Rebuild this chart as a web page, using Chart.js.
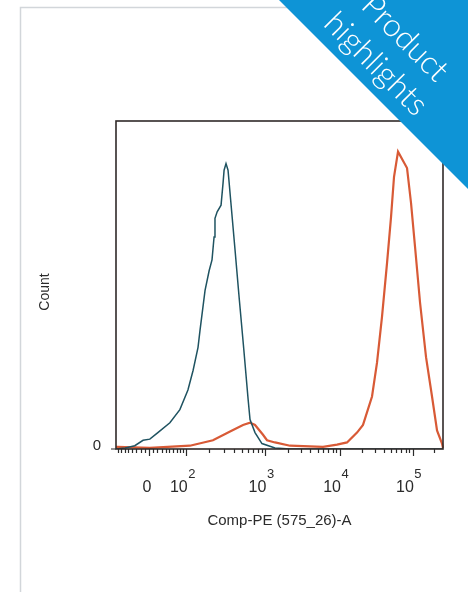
<!DOCTYPE html>
<html>
<head>
<meta charset="utf-8">
<script src="https://cdn.jsdelivr.net/npm/chart.js@4.4.1/dist/chart.umd.min.js"></script>
<style>
  html, body { margin: 0; padding: 0; background: #fff; }
  #wrap { position: relative; width: 468px; height: 592px; }
</style>
</head>
<body>
<div id="wrap"><canvas id="c" width="468" height="592"></canvas></div>
<script>
// Unstained control: Comp-PE intensity and event count
const unstainedPE    = [-85, -59, -34, -14, 2, 21, 51, 79, 105, 124, 144, 153, 177, 199, 216, 229, 235, 250, 279, 295, 304, 321, 340, 366, 415, 470, 534, 606, 640, 741, 910, 1346, 2128, 5000, 20000, 100000, 262144];
const unstainedCount = [0, 1, 3, 8, 9, 15, 24, 36, 54, 72, 93, 109, 145, 163, 173, 194, 211, 217, 223, 243, 255, 261, 255, 228, 182, 136, 91, 45, 27, 15, 5, 1, 0, 0, 0, 0, 0];

// Stained sample: Comp-PE intensity and event count
const stainedPE    = [-85, -82, 2, 112, 222, 360, 522, 640, 741, 939, 1058, 1346, 2128, 5928, 9200, 12600, 17265, 20860, 27725, 32465, 38035, 44560, 50560, 55600, 63100, 83910, 95240, 108090, 126640, 153180, 185140, 216920, 254130, 262144];
const stainedCount = [2, 2, 1, 3, 8, 16, 22, 24, 22, 13, 8, 6, 3, 2, 4, 6, 15, 22, 48, 79, 121, 170, 212, 249, 272, 257, 225, 185, 134, 84, 48, 17, 5, 1];

// Axis ticks
const peMajorTicks  = [0, 100, 1000, 10000, 100000];
const peMajorBase   = ['0', '10', '10', '10', '10'];
const peMajorExp    = ['', '2', '3', '4', '5'];
const peMinorTicks  = [-80, -70, -60, -50, -40, -30, -20, -10, 10, 20, 30, 40, 50, 60, 70, 80, 90,
                       200, 300, 400, 500, 600, 700, 800, 900,
                       2000, 3000, 4000, 5000, 6000, 7000, 8000, 9000,
                       20000, 30000, 40000, 50000, 60000, 70000, 80000, 90000, 200000];
const countTicks    = [0];
const countTickLabels = ['0'];
const countMax      = 300;

const xTitle = 'Comp-PE (575_26)-A';
const yTitle = 'Count';
const bannerLines = ['Product', 'highlights'];

// Logicle (biexponential) display transform, Parks & Moore style
function makeLogicle(T, W, M, A) {
  const w = W / (M + A), x2 = A / (M + A), x1 = x2 + w, x0 = x2 + 2 * w;
  const b = (M + A) * Math.LN10;
  const fd = d => 2 * (Math.log(d) - Math.log(b)) + w * (b + d);
  let lo = 1e-9, hi = b;
  for (let i = 0; i < 200; i++) { const m = (lo + hi) / 2; if (fd(m) > 0) hi = m; else lo = m; }
  const d = (lo + hi) / 2;
  const ca = Math.exp(x0 * (b + d));
  const mfa = Math.exp(b * x1) - ca / Math.exp(d * x1);
  const a = T / ((Math.exp(b) - mfa) - ca / Math.exp(d));
  const c = ca * a, f = -mfa * a;
  const pos = y => a * Math.exp(b * y) - c * Math.exp(-d * y) + f;
  const S = y => (y >= x1 ? pos(y) : -pos(2 * x1 - y));
  const inv = v => {
    let l = -1, h = 2;
    for (let i = 0; i < 80; i++) { const m = (l + h) / 2; if (S(m) < v) l = m; else h = m; }
    return (l + h) / 2;
  };
  return { S, inv };
}
const PE_TRANSFORM = makeLogicle(262144, 0.454, 4.5, 0);

class LogicleScale extends Chart.Scale {
  determineDataLimits() {
    this.min = PE_TRANSFORM.S(0);
    this.max = PE_TRANSFORM.S(1);
  }
  buildTicks() { return peMajorTicks.map(v => ({ value: v })); }
  getLabelForValue(v) { return String(v); }
  getPixelForValue(v) { return this.getPixelForDecimal(PE_TRANSFORM.inv(v)); }
  getValueForPixel(p) { return PE_TRANSFORM.S(this.getDecimalForPixel(p)); }
}
LogicleScale.id = 'logicle';
LogicleScale.defaults = {};
Chart.register(LogicleScale);

const toPoints = (xs, ys) => xs.map((x, i) => ({ x, y: ys[i] }));

const FONT = '"Liberation Sans", Arial, Helvetica, sans-serif';
const INK = '#2b2b2b';

const decorations = {
  id: 'decorations',
  beforeDraw(chart) {
    const ctx = chart.ctx;
    ctx.save();
    ctx.fillStyle = '#fff';
    ctx.fillRect(0, 0, chart.width, chart.height);
    // page outline
    ctx.strokeStyle = '#d2d6da';
    ctx.lineWidth = 1.5;
    ctx.beginPath();
    ctx.moveTo(20.5, chart.height);
    ctx.lineTo(20.5, 7.5);
    ctx.lineTo(chart.width, 7.5);
    ctx.stroke();
    ctx.restore();
  },
  afterDraw(chart) {
    const ctx = chart.ctx;
    const area = chart.chartArea;
    const xs = chart.scales.x, ys = chart.scales.y;
    ctx.save();

    // plot frame
    ctx.strokeStyle = '#302a28';
    ctx.lineWidth = 1.6;
    ctx.strokeRect(area.left, area.top, area.right - area.left, area.bottom - area.top);

    // x ticks
    ctx.lineWidth = 1.2;
    ctx.strokeStyle = INK;
    ctx.beginPath();
    peMinorTicks.forEach(v => {
      const px = Math.round(xs.getPixelForValue(v)) + 0.5;
      if (px < area.left || px > area.right) return;
      ctx.moveTo(px, area.bottom);
      ctx.lineTo(px, area.bottom + 4);
    });
    peMajorTicks.forEach(v => {
      const px = Math.round(xs.getPixelForValue(v)) + 0.5;
      ctx.moveTo(px, area.bottom);
      ctx.lineTo(px, area.bottom + 7);
    });
    // y ticks
    countTicks.forEach(v => {
      const py = ys.getPixelForValue(v);
      ctx.moveTo(area.left - 5, py);
      ctx.lineTo(area.left, py);
    });
    ctx.stroke();

    // x tick labels with superscript exponents
    ctx.fillStyle = INK;
    ctx.textBaseline = 'alphabetic';
    peMajorTicks.forEach((v, i) => {
      const px = xs.getPixelForValue(v);
      const base = peMajorBase[i], exp = peMajorExp[i];
      ctx.font = '16px ' + FONT;
      const wb = ctx.measureText(base).width;
      if (!exp) {
        ctx.textAlign = 'center';
        ctx.fillText(base, px - 2, 492);
        return;
      }
      ctx.font = '13px ' + FONT;
      const we = ctx.measureText(exp).width;
      const left = px - 4 - (wb + we) / 2;
      ctx.textAlign = 'left';
      ctx.font = '16px ' + FONT;
      ctx.fillText(base, left, 492);
      ctx.font = '13px ' + FONT;
      ctx.fillText(exp, left + wb + 0.5, 478);
    });

    // y tick labels
    ctx.font = '15px ' + FONT;
    ctx.textAlign = 'right';
    countTicks.forEach((v, i) => {
      ctx.fillText(countTickLabels[i], 101, ys.getPixelForValue(v) + 0.5);
    });

    // axis titles
    ctx.font = '15px ' + FONT;
    ctx.textAlign = 'center';
    ctx.fillText(xTitle, (area.left + area.right) / 2, 525);
    ctx.save();
    ctx.translate(45, 292);
    ctx.rotate(-Math.PI / 2);
    ctx.textBaseline = 'middle';
    ctx.font = '14px ' + FONT;
    ctx.fillText(yTitle, 0, 0);
    ctx.restore();

    // corner banner
    ctx.fillStyle = '#0e94d6';
    ctx.beginPath();
    ctx.moveTo(279, 0);
    ctx.lineTo(chart.width, 0);
    ctx.lineTo(chart.width, 189);
    ctx.closePath();
    ctx.fill();
    ctx.fillStyle = '#ffffff';
    ctx.font = '300 32px Lato, "Open Sans", sans-serif';
    ctx.textAlign = 'center';
    ctx.textBaseline = 'middle';
    const centers = [[405, 38], [376, 64]];
    bannerLines.forEach((t, i) => {
      ctx.save();
      ctx.translate(centers[i][0], centers[i][1]);
      ctx.rotate(Math.PI / 4);
      ctx.fillText(t, 0, 0);
      ctx.restore();
    });
    ctx.restore();
  }
};

new Chart(document.getElementById('c'), {
  type: 'line',
  data: {
    datasets: [
      {
        label: 'Unstained',
        data: toPoints(unstainedPE, unstainedCount),
        borderColor: '#1f5361',
        borderWidth: 1.5,
        pointRadius: 0,
        tension: 0,
        fill: false
      },
      {
        label: 'Stained',
        data: toPoints(stainedPE, stainedCount),
        borderColor: '#d85a36',
        borderWidth: 2.2,
        pointRadius: 0,
        tension: 0,
        fill: false
      }
    ]
  },
  options: {
    responsive: false,
    animation: false,
    devicePixelRatio: 1,
    layout: { padding: { left: 116, top: 121, right: 25, bottom: 143 } },
    plugins: { legend: { display: false }, tooltip: { enabled: false } },
    scales: {
      x: { type: 'logicle', display: false },
      y: { type: 'linear', display: false, min: 0, max: countMax }
    }
  },
  plugins: [decorations]
});
</script>
</body>
</html>
